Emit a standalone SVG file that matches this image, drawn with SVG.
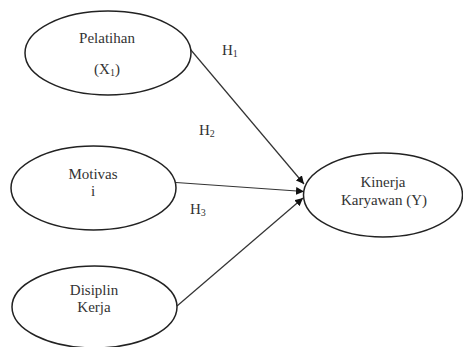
<svg xmlns="http://www.w3.org/2000/svg" width="463" height="347" viewBox="0 0 463 347">
<defs>
<style>
.node ellipse{fill:#fff;stroke:#222;stroke-width:1.5}
text{font-family:"Liberation Serif","Times New Roman",serif;font-size:15px;fill:#333}
.lbl{text-anchor:middle}
.edge{stroke:#333;stroke-width:1.2;fill:none;marker-end:url(#ah)}
sub{font-size:10px}
</style>
<marker id="ah" viewBox="0 0 10 10" refX="10" refY="5" markerWidth="8" markerHeight="8" markerUnits="userSpaceOnUse" orient="auto">
<path d="M0,0 L10,5 L0,10 z" fill="#111"/>
</marker>
</defs>
<rect width="463" height="347" fill="#fff"/>
<g id="connectors">
<line class="edge" x1="190.5" y1="49.5" x2="304" y2="184"/>
<line class="edge" x1="176" y1="182.5" x2="304" y2="191.5"/>
<line class="edge" x1="177" y1="306" x2="303" y2="198"/>
<text x="222" y="55">H<tspan font-size="10" dy="2">1</tspan></text>
<text x="199" y="135">H<tspan font-size="10" dy="2">2</tspan></text>
<text x="190" y="214">H<tspan font-size="10" dy="2">3</tspan></text>
</g>
<g id="pelatihan" class="node">
<ellipse cx="108" cy="53" rx="83" ry="42"/>
<text class="lbl" x="107" y="43">Pelatihan</text>
<text class="lbl" x="107" y="74">(X<tspan font-size="10" dy="2">1</tspan><tspan dy="-2">)</tspan></text>
</g>
<g id="motivasi" class="node">
<ellipse cx="93.5" cy="188" rx="82.5" ry="42"/>
<text class="lbl" x="93" y="179">Motivas</text>
<text class="lbl" x="93" y="196">i</text>
</g>
<g id="disiplin" class="node">
<ellipse cx="94.5" cy="307" rx="82.5" ry="41"/>
<text class="lbl" x="94" y="295">Disiplin</text>
<text class="lbl" x="94" y="312">Kerja</text>
</g>
<g id="kinerja" class="node">
<ellipse cx="383" cy="195" rx="79.5" ry="42"/>
<text class="lbl" x="383" y="187">Kinerja</text>
<text class="lbl" x="384" y="205">Karyawan (Y)</text>
</g>
</svg>
